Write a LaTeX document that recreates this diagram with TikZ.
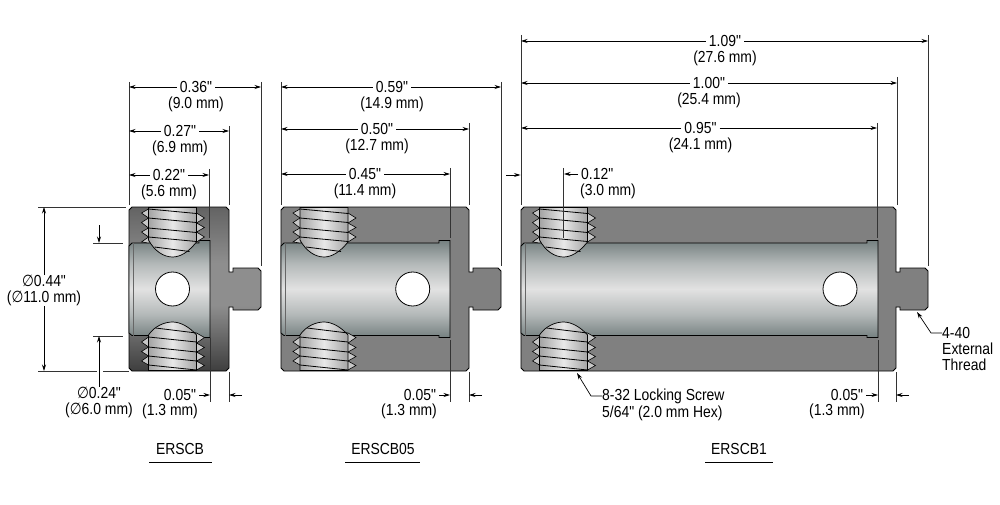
\documentclass[tikz,border=0pt]{standalone}
\usepackage{fontspec}
\newfontfamily\dimfamily[FakeStretch=0.87]{Liberation Sans}
\newfontfamily\symfont[FakeStretch=0.85]{DejaVu Sans}
\usetikzlibrary{arrows.meta}
\definecolor{bodygray}{HTML}{808080}
\definecolor{boreA}{HTML}{758080}
\definecolor{boreB}{HTML}{B4B9B9}
\definecolor{boreC}{HTML}{E2E2E2}
\definecolor{threadA}{HTML}{A4A4A4}
\definecolor{threadB}{HTML}{E8E8E8}
\definecolor{shellA}{HTML}{636363}
\definecolor{shellB}{HTML}{8E8E8E}
\definecolor{shellC}{HTML}{3E3E3E}
\pgfdeclareverticalshading{boreshading}{100bp}{color(0bp)=(boreA); color(25bp)=(boreA); color(37bp)=(boreB); color(50bp)=(boreC); color(63bp)=(boreB); color(75bp)=(boreA); color(100bp)=(boreA)}
\pgfdeclareverticalshading{shellshading}{100bp}{color(0bp)=(shellC); color(25bp)=(shellC); color(45bp)=(shellB); color(58bp)=(shellB); color(75bp)=(shellA); color(100bp)=(shellA)}
\pgfdeclarehorizontalshading{threadshading}{100bp}{color(0bp)=(threadA); color(25bp)=(threadA); color(50bp)=(threadB); color(75bp)=(threadA); color(100bp)=(threadA)}
\newcommand{\dia}{{\symfont\char"2205}}
\tikzset{
	dimtext/.style={inner xsep=3pt, inner ysep=0pt, font=\dimfamily\fontsize{16}{16}\selectfont},
	dimline/.style={line width=0.7pt, -{Stealth[length=6.5pt,width=4pt]}},
	extline/.style={line width=0.8pt, color=black!80},
	bodyflat/.style={fill=bodygray, draw=black, line width=0.8pt},
	bodyshade/.style={shade, shading=shellshading, draw=black, line width=0.8pt},
	borefill/.style={shade, shading=boreshading, draw=black, line width=0.8pt},
	threadfill/.style={shade, shading=threadshading, draw=black, line width=0.7pt},
	toothfill/.style={fill=black!22, draw=black, line width=0.6pt}
}
\begin{document}
\begin{tikzpicture}[x=1pt,y=-1pt]
	\useasboundingbox (0,0) rectangle (1000,505);

	% The three couplers: left, right, inner end, undercut, stud end, hole, screw, body style
	\foreach \lx/\rx/\ix/\ux/\ex/\hx/\sx/\bstyle in {
		129/229/210/199/261/172.5/172.5/bodyshade,
		281/469/450/439/501/412.7/324/bodyflat,
		521/896/878/867/928/840/563.5/bodyflat} {
		% Body with stud
		\draw[\bstyle] (\lx,210) -- (\lx+3,207) -- (\rx-3,207) -- (\rx,210) -- (\rx,272) -- (\rx+4,272) -- (\rx+4,268)
			-- (\ex-3,268) -- (\ex,271) -- (\ex,307) -- (\ex-3,310) -- (\rx+4,310) -- (\rx+4,307) -- (\rx,307)
			-- (\rx,368) -- (\rx-3,371) -- (\lx+3,371) -- (\lx,368) -- cycle;
		% Bore
		\draw[borefill] (\lx+3,243) -- (\ux,243) -- (\ux,240.5) -- (\ix,240.5) -- (\ix,337.5) -- (\ux,337.5) -- (\ux,335.5)
			-- (\lx+3,335.5) -- (\lx,333) -- (\lx,246) -- cycle;
		\draw[line width=0.5pt, color=black!60] (\lx+4,243) -- (\lx+4,335.5);
		% Cross hole
		\draw[fill=white, line width=0.8pt] (\hx,289) circle (17);
		% Teeth of the upper screw
		\foreach \ya/\yb/\yc in {209/213/218, 218/222.5/228, 228/232/237, 237/242/243}
			\draw[toothfill] (\sx-24,\ya) -- (\sx-31,\yb) -- (\sx-24,\yc);
		\foreach \ya/\yb/\yc in {213/218/223, 223/227.5/232, 232/237/242}
			\draw[toothfill] (\sx+24,\ya) -- (\sx+32,\yb) -- (\sx+24,\yc);
		% Teeth of the lower screw
		\foreach \ya/\yb/\yc in {337/342/347, 347/351.5/356, 356/361/365}
			\draw[toothfill] (\sx-24,\ya) -- (\sx-31,\yb) -- (\sx-24,\yc);
		\foreach \ya/\yb/\yc in {333/337.5/343, 343/347.5/352, 352/356.5/361, 361/365.5/370}
			\draw[toothfill] (\sx+24,\ya) -- (\sx+32,\yb) -- (\sx+24,\yc);
		% Screws
		\draw[threadfill] (\sx-24,207.5) -- (\sx+24,207.5) -- (\sx+24,242)
			.. controls (\sx+16,252) and (\sx+8,257) .. (\sx,257)
			.. controls (\sx-9,257) and (\sx-18,251) .. (\sx-24,240) -- cycle;
		\draw[threadfill] (\sx-24,370.5) -- (\sx+24,370.5) -- (\sx+24,335)
			.. controls (\sx+17,327) and (\sx+8,322) .. (\sx,322)
			.. controls (\sx-8,322) and (\sx-18,326) .. (\sx-24,335) -- cycle;
		\foreach \xa/\xb/\ya in {-24/24/209, -24/24/218, -24/24/228, -24/24/237, -18/17/247}
			\draw[line width=0.8pt] (\sx+\xa,\ya) -- (\sx+\xb,\ya+4.5);
		\foreach \xa/\ya in {-17/328, -24/337, -24/347, -24/356, -24/365}
			\draw[line width=0.8pt] (\sx+\xa,\ya) -- (\sx+24,\ya+5);
	}

	% Extension lines
	\foreach \x/\ya/\yb in {129/82/205, 261/82/266, 229/126/205, 209/169/238,
		281/82/205, 501/82/266, 469/123/205, 450/168/238,
		521/35/205, 928/35/266, 897/77/205, 877/123/238, 563.5/168/238,
		210/338/402, 229/372/402, 450/340/402, 469/372/402, 878/340/402, 896/372/402}
		\draw[extline] (\x,\ya) -- (\x,\yb);
	\foreach \xa/\xb/\y in {38/126/207, 38/97/371, 103/129/371, 93/123/243, 93/123/336}
		\draw[extline] (\xa,\y) -- (\xb,\y);

	% Dimensions across the top: name, text x, y, left end, right end, inches, mm
	\foreach \nm/\tx/\ty/\lx/\rx/\inch/\mm in {
		inA/196/87/129/261/0.36/9.0, inB/180/131/129/229/0.27/6.9, inC/169/175/129/209/0.22/5.6,
		inD/392/87/281/501/0.59/14.9, inE/377/129/281/469/0.50/12.7, inF/365/174/281/450/0.45/11.4,
		inG/725/41/521/928/1.09/27.6, inH/709/83/521/897/1.00/25.4, inI/700.5/128/521/877/0.95/24.1} {
		\node[dimtext] (\nm) at (\tx,\ty) {\inch"};
		\node[dimtext] (\nm mm) at (\tx,\ty+17) {(\mm\ mm)};
		\coordinate (\nm l) at (\lx,\ty);
		\coordinate (\nm r) at (\rx,\ty);
		\draw[dimline] (\nm) -- (\nm l);
		\draw[dimline] (\nm) -- (\nm r);
	}

	% The 0.05 dimensions: name, text x, mm text x, left end, right end
	\foreach \nm/\tx/\mx/\lx/\rx in {gapA/180/170/210/229, gapB/420/409/450/469, gapC/847/837/878/896} {
		\node[dimtext] (\nm) at (\tx,394.5) {0.05"};
		\node[dimtext] (\nm mm) at (\mx,411) {(1.3 mm)};
		\coordinate (\nm l) at (\lx,395);
		\coordinate (\nm t) at (\rx+13,395);
		\coordinate (\nm r) at (\rx,395);
		\draw[dimline] (\nm.east |- \nm l) -- (\nm l);
		\draw[dimline] (\nm t) -- (\nm r);
	}

	% Outer diameter
	\node[dimtext] (odA) at (44,281) {\dia0.44"};
	\node[dimtext] (odB) at (44,298.5) {(\dia11.0 mm)};
	\coordinate (odtop) at (44,207);
	\coordinate (odbot) at (44,371);
	\draw[dimline] (odA) -- (odtop);
	\draw[dimline] (odB) -- (odbot);

	% Bore diameter
	\node[dimtext] (bdA) at (99,392.5) {\dia0.24"};
	\node[dimtext] (bdB) at (99,410) {(\dia6.0 mm)};
	\coordinate (bdstart) at (99,225);
	\coordinate (bdtop) at (99,243);
	\coordinate (bdbot) at (99,336);
	\draw[dimline] (bdstart) -- (bdtop);
	\draw[dimline] (bdA) -- (bdbot);

	% Screw position
	\node[dimtext, anchor=west] (scA) at (578,174) {0.12"};
	\node[dimtext, anchor=west] (scB) at (577,191) {(3.0 mm)};
	\coordinate (scpos) at (564,174);
	\coordinate (scstart) at (506,175);
	\coordinate (scend) at (520.5,175);
	\draw[dimline] (scA) -- (scpos);
	\draw[dimline] (scstart) -- (scend);

	% Leaders
	\node[dimtext, anchor=west, inner xsep=0pt] (lkA) at (602,396) {8-32 Locking Screw};
	\node[dimtext, anchor=west, inner xsep=0pt] (lkB) at (602,413) {5/64" (2.0 mm Hex)};
	\coordinate (lktip) at (577,373);
	\draw[dimline, <-, {Stealth[length=6.5pt,width=4pt]}-] (lktip) -- (591,396) -- (lkA);
	\node[dimtext, anchor=west, inner xsep=0pt] (thA) at (942,333) {4-40};
	\node[dimtext, anchor=west, inner xsep=0pt] (thB) at (942,349) {External};
	\node[dimtext, anchor=west, inner xsep=0pt] (thC) at (942,365) {Thread};
	\coordinate (thtip) at (917,312);
	\draw[dimline, <-, {Stealth[length=6.5pt,width=4pt]}-] (thtip) -- (931,333) -- (thA);

	% Part numbers
	\foreach \nm/\tx/\lx/\rx/\txt in {ptA/180/149/212/ERSCB, ptB/383/345/420/ERSCB05, ptC/739/705/773/ERSCB1} {
		\node[dimtext] (\nm) at (\tx,449) {\txt};
		\draw[line width=1pt] (\lx,462.5) -- (\rx,462.5);
	}
\end{tikzpicture}
\end{document}
